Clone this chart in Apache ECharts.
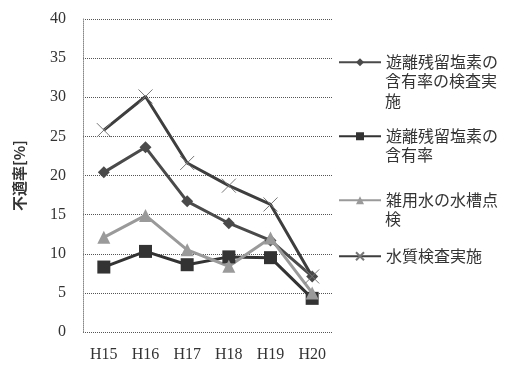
<!DOCTYPE html>
<html>
<head>
<meta charset="utf-8">
<script src="https://cdn.jsdelivr.net/npm/echarts@6/dist/echarts.min.js"></script>
<style>
  html, body { margin: 0; padding: 0; background: #fff; }
  #chart { width: 514px; height: 369px; }
</style>
</head>
<body>
<div id="chart"></div>
<script>
// Fiscal years (Heisei)
const years = ['H15', 'H16', 'H17', 'H18', 'H19', 'H20'];

// Non-compliance rate [%] per inspection item
const chlorineCheckDone = [20.4, 23.6, 16.7, 13.9, 11.7, 7.1];
const chlorineContent   = [8.3, 10.3, 8.6, 9.6, 9.5, 4.3];
const tankInspection    = [12.1, 14.9, 10.5, 8.4, 12.0, 5.0];
const qualityTestDone   = [25.8, 30.1, 21.6, 18.7, 16.3, 7.1];

const seriesNames = [
  '遊離残留塩素の含有率の検査実施',
  '遊離残留塩素の含有率',
  '雑用水の水槽点検',
  '水質検査実施'
];
// Legend labels wrapped into lines
const legendLines = [
  ['遊離残留塩素の', '含有率の検査実', '施'],
  ['遊離残留塩素の', '含有率'],
  ['雑用水の水槽点', '検'],
  ['水質検査実施']
];

const crossPath = 'path://M0,0L10,10M10,0L0,10';
const jpFont = '"Noto Sans CJK JP", sans-serif';
const serifFont = '"Liberation Serif", "DejaVu Serif", serif';
const LH = 20.5;
const legendIconY = [62, 136, 200, 256];
const legendLeft = 338;
const legendTextX = legendLeft + 42 + 5;

// One legend per item: the icon sits beside the first line of its label
const legends = seriesNames.map((name, i) => ({
  data: [name],
  orient: 'vertical',
  left: legendLeft,
  top: legendIconY[i] - 10,
  itemWidth: 42,
  itemHeight: 10,
  padding: 0,
  lineStyle: { width: 2 },
  formatter: () => legendLines[i][0],
  textStyle: { fontFamily: jpFont, fontSize: 16, color: '#333', lineHeight: LH }
}));

// Continuation lines of the wrapped legend labels
const extraLines = [];
legendLines.forEach((lines, i) => {
  lines.slice(1).forEach((txt, k) => {
    extraLines.push({
      type: 'text',
      left: legendTextX,
      top: legendIconY[i] + (k + 1) * LH - 10,
      style: { text: txt, font: '16px ' + jpFont, fill: '#333' }
    });
  });
});

const chart = echarts.init(document.getElementById('chart'), null, { renderer: 'canvas' });

chart.setOption({
  animation: false,
  backgroundColor: '#fff',
  grid: { left: 83, right: 181, top: 19, bottom: 37 },
  legend: legends,
  graphic: extraLines,
  xAxis: {
    type: 'category',
    data: years,
    boundaryGap: true,
    axisLine: { show: false },
    axisTick: { show: false },
    axisLabel: { fontFamily: serifFont, fontSize: 16, color: '#333', margin: 15 }
  },
  yAxis: {
    type: 'value',
    min: 0,
    max: 40,
    interval: 5,
    name: '不適率[%]',
    nameLocation: 'middle',
    nameGap: 56,
    nameTextStyle: { fontFamily: jpFont, fontSize: 15, fontWeight: 'bold', color: '#333' },
    axisLine: { show: true, lineStyle: { color: '#888', type: 'dotted', width: 1 } },
    axisTick: { show: false },
    axisLabel: { fontFamily: serifFont, fontSize: 16, color: '#333', margin: 17 },
    splitLine: { show: true, lineStyle: { color: '#555', type: 'dotted', width: 1 } }
  },
  series: [
    {
      name: seriesNames[0],
      type: 'line',
      data: chlorineCheckDone,
      symbol: 'diamond',
      symbolSize: 12,
      lineStyle: { color: '#4a4a4a', width: 3 },
      itemStyle: { color: '#4a4a4a' }
    },
    {
      name: seriesNames[1],
      type: 'line',
      data: chlorineContent,
      symbol: 'rect',
      symbolSize: 13,
      lineStyle: { color: '#333', width: 3 },
      itemStyle: { color: '#333' }
    },
    {
      name: seriesNames[2],
      type: 'line',
      data: tankInspection,
      symbol: 'triangle',
      symbolSize: 13,
      lineStyle: { color: '#9a9a9a', width: 3 },
      itemStyle: { color: '#9a9a9a' }
    },
    {
      name: seriesNames[3],
      type: 'line',
      data: qualityTestDone,
      symbol: crossPath,
      symbolSize: 14,
      lineStyle: { color: '#3e3e3e', width: 3 },
      itemStyle: { color: 'none', borderColor: '#777', borderWidth: 1 }
    }
  ]
});
</script>
</body>
</html>
